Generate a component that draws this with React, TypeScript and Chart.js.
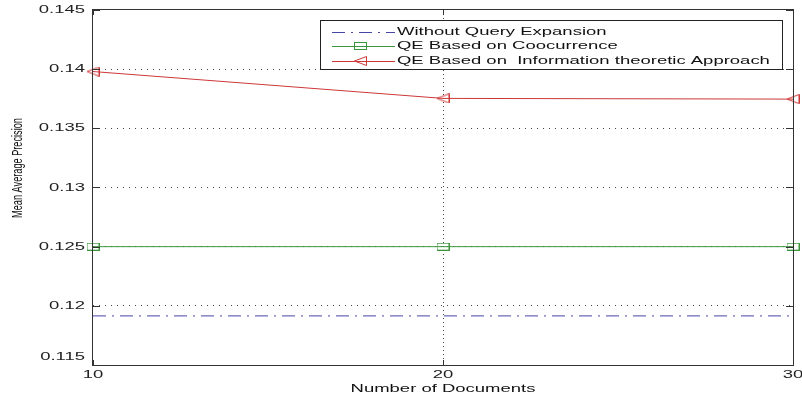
import React, { useEffect, useRef } from "react";
import { Chart, registerables } from "chart.js";

Chart.register(...registerables);

const numDocs = [10, 20, 30];
const withoutQE = [0.11915, 0.11915, 0.11915];
const qeCooccurrence = [0.125, 0.125, 0.125];
const qeInfoTheoretic = [0.1398, 0.13753, 0.13747];

const seriesLabels = [
  "Without Query Expansion",
  "QE Based on Coocurrence",
  "QE Based on  Information theoretic Approach",
];
const xTickValues = [10, 20, 30];
const xTickLabels = ["10", "20", "30"];
const yTickValues = [0.115, 0.12, 0.125, 0.13, 0.135, 0.14, 0.145];
const yTickLabels = ["0.115", "0.12", "0.125", "0.13", "0.135", "0.14", "0.145"];
const xTitle = "Number of Documents";
const yTitle = "Mean Average Precision";

const BLUE = "rgb(70,70,165)";
const GREEN = "rgb(60,150,60)";
const RED = "rgb(205,55,55)";
const FONT = "11px 'Liberation Sans', Arial, sans-serif";
const SX = 1.68;

function makeSquare(): HTMLCanvasElement {
  const c = document.createElement("canvas");
  c.width = 13;
  c.height = 8;
  const g = c.getContext("2d")!;
  g.strokeStyle = GREEN;
  g.lineWidth = 1;
  g.strokeRect(0.5, 0.5, 12, 7);
  return c;
}
function makeTriangle(): HTMLCanvasElement {
  const c = document.createElement("canvas");
  c.width = 13;
  c.height = 10;
  const g = c.getContext("2d")!;
  g.strokeStyle = RED;
  g.lineWidth = 1;
  g.beginPath();
  g.moveTo(0.5, 5);
  g.lineTo(12.5, 0.5);
  g.lineTo(12.5, 9.5);
  g.closePath();
  g.stroke();
  return c;
}

function stretchText(
  ctx: CanvasRenderingContext2D,
  text: string,
  x: number,
  y: number,
  align: "left" | "right" | "center",
  font: string,
  color: string
) {
  ctx.save();
  ctx.font = font;
  ctx.fillStyle = color;
  ctx.textBaseline = "middle";
  ctx.textAlign = "left";
  const w = ctx.measureText(text).width * SX;
  const left = align === "right" ? x - w : align === "center" ? x - w / 2 : x;
  ctx.translate(left, y);
  ctx.scale(SX, 1);
  ctx.fillText(text, 0, 0);
  ctx.restore();
}

export default function App() {
  const ref = useRef<HTMLCanvasElement>(null);
  useEffect(() => {
    document.body.style.margin = "0";
    const square = makeSquare();
    const triangle = makeTriangle();
    const pointImgs = [null, square, triangle];

    const decor = {
      id: "decor",
      afterDraw(chart: any) {
        const ctx: CanvasRenderingContext2D = chart.ctx;
        const { left, right, top, bottom } = chart.chartArea;
        const xs = chart.scales.x;
        const ys = chart.scales.y;
        ctx.save();
        // box
        ctx.strokeStyle = "#333";
        ctx.lineWidth = 1;
        ctx.strokeRect(Math.round(left) - 0.5, Math.round(top) - 0.5, Math.round(right - left) + 1, Math.round(bottom - top) + 1);
        // inner ticks
        ctx.beginPath();
        yTickValues.forEach((v) => {
          const py = Math.round(ys.getPixelForValue(v)) + 0.5;
          ctx.moveTo(left, py);
          ctx.lineTo(left + 7, py);
          ctx.moveTo(right, py);
          ctx.lineTo(right - 7, py);
        });
        xTickValues.forEach((v) => {
          const px = Math.round(xs.getPixelForValue(v)) + 0.5;
          ctx.moveTo(px, bottom);
          ctx.lineTo(px, bottom - 5);
          ctx.moveTo(px, top);
          ctx.lineTo(px, top + 5);
        });
        ctx.stroke();
        // tick labels
        yTickValues.forEach((v, i) => {
          let py = ys.getPixelForValue(v);
          if (i === 0) py -= 8;
          stretchText(ctx, yTickLabels[i], left - 8, py, "right", FONT, "#222");
        });
        xTickValues.forEach((v, i) => {
          const px = xs.getPixelForValue(v);
          stretchText(ctx, xTickLabels[i], px, bottom + 9.5, "center", FONT, "#222");
        });
        // x title
        stretchText(ctx, xTitle, (left + right) / 2, bottom + 24, "center", FONT, "#111");
        // y title rotated
        ctx.save();
        ctx.font = "9.2px 'Liberation Sans', Arial, sans-serif";
        ctx.fillStyle = "#111";
        ctx.textAlign = "center";
        ctx.textBaseline = "middle";
        ctx.translate(18, 168);
        ctx.scale(SX, 1);
        ctx.rotate(-Math.PI / 2);
        ctx.fillText(yTitle, 0, 0);
        ctx.restore();
        // legend
        const lx = 320, ly = 20, lw = 462, lh = 49;
        ctx.fillStyle = "#fff";
        ctx.fillRect(lx, ly, lw, lh);
        ctx.strokeStyle = "#222";
        ctx.strokeRect(lx + 0.5, ly + 0.5, lw, lh);
        const rows = [31.5, 46, 60.5];
        const colors = [BLUE, GREEN, RED];
        rows.forEach((ry, i) => {
          ctx.save();
          ctx.strokeStyle = colors[i];
          ctx.lineWidth = 1;
          if (i === 0) ctx.setLineDash([13, 6, 2, 6]);
          ctx.beginPath();
          ctx.moveTo(332, Math.round(ry) + 0.5);
          ctx.lineTo(395, Math.round(ry) + 0.5);
          ctx.stroke();
          ctx.restore();
          const img = pointImgs[i];
          if (img) ctx.drawImage(img, 360 - Math.floor(img.width / 2), Math.round(ry) - Math.floor(img.height / 2));
          stretchText(ctx, seriesLabels[i], 397, ry, "left", FONT, "#111");
        });
        ctx.restore();
      },
    };

    const mk = (arr: number[]) => numDocs.map((x, i) => ({ x, y: arr[i] }));
    const chart = new Chart(ref.current!, {
      type: "line",
      data: {
        datasets: [
          {
            label: seriesLabels[0],
            data: mk(withoutQE),
            borderColor: BLUE,
            borderWidth: 1,
            borderDash: [13, 6, 2, 6],
            pointRadius: 0,
            fill: false,
          },
          {
            label: seriesLabels[1],
            data: mk(qeCooccurrence),
            borderColor: GREEN,
            borderWidth: 1,
            pointStyle: square as any,
            pointRadius: 6,
            fill: false,
          },
          {
            label: seriesLabels[2],
            data: mk(qeInfoTheoretic),
            borderColor: RED,
            borderWidth: 1,
            pointStyle: triangle as any,
            pointRadius: 6,
            fill: false,
          },
        ],
      },
      options: {
        animation: false,
        responsive: false,
        devicePixelRatio: 1,
        clip: false as any,
        layout: { padding: { left: 0, top: 10, right: 9, bottom: 0 } },
        plugins: { legend: { display: false }, tooltip: { enabled: false } },
        scales: {
          x: {
            type: "linear",
            min: 10,
            max: 30,
            afterBuildTicks: (s: any) => {
              s.ticks = xTickValues.map((v) => ({ value: v }));
            },
            afterFit: (s: any) => {
              s.height = 35;
            },
            ticks: { display: false },
            grid: {
              drawTicks: false,
              color: (c: any) => (c.tick && c.tick.value === 20 ? "#444" : "rgba(0,0,0,0)"),
              lineWidth: 1,
            },
            border: { display: false, dash: [1, 3] },
          },
          y: {
            min: 0.115,
            max: 0.145,
            afterBuildTicks: (s: any) => {
              s.ticks = yTickValues.map((v) => ({ value: v }));
            },
            afterFit: (s: any) => {
              s.width = 93;
            },
            ticks: { display: false },
            grid: {
              drawTicks: false,
              color: (c: any) =>
                c.tick && c.tick.value > 0.1151 && c.tick.value < 0.1449 ? "#444" : "rgba(0,0,0,0)",
              lineWidth: 1,
            },
            border: { display: false, dash: [1, 5] },
          },
        },
      },
      plugins: [decor],
    });
    return () => chart.destroy();
  }, []);
  return <canvas ref={ref} width={802} height={400} style={{ display: "block" }} />;
}
